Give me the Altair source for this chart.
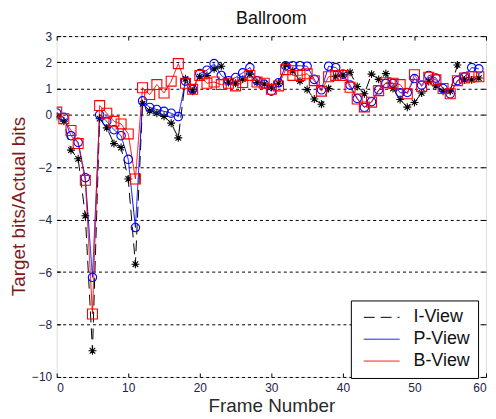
import altair as alt
import pandas as pd

frames = list(range(60))
series_names = ["I-View", "P-View", "B-View"]
i_view = [-0.07, -0.25, -1.35, -1.68, -3.85, -9.0, -0.15, -0.5, -1.1, -1.25,
          -2.45, -5.7, 0.42, 0.15, 0.06, -0.06, -0.32, -0.88, 1.37, 0.9,
          1.45, 1.5, 1.75, 1.85, 1.23, 1.2, 1.36, 1.55, 1.23, 1.17,
          1.05, 1.2, 1.9, 1.68, 1.28, 0.96, 0.6, 0.4, 1.0, 1.46,
          1.52, 1.62, 1.08, 0.8, 1.55, 1.35, 1.57, 1.0, 0.58, 0.29,
          0.47, 0.83, 1.27, 1.1, 0.9, 0.9, 1.9, 1.33, 1.33, 1.4]
p_view = [0.07, -0.1, -0.8, -1.05, -2.4, -6.2, 0.0, -0.25, -0.57, -0.8,
          -1.7, -4.3, 0.53, 0.28, 0.2, 0.13, 0.06, -0.07, 1.28, 0.97,
          1.57, 1.7, 1.95, 1.5, 1.3, 1.42, 1.6, 1.8, 1.3, 1.17,
          0.9, 1.22, 1.87, 1.87, 1.87, 1.85, 1.35, 0.95, 1.85, 1.8,
          1.55, 1.13, 0.62, 0.28, 0.5, 0.95, 1.2, 1.2, 0.84, 0.85,
          1.38, 1.13, 1.5, 1.4, 1.0, 0.8, 1.3, 1.45, 1.8, 1.75]
b_view = [0.1, -0.15, -0.6, -1.1, -2.5, -7.6, 0.35, 0.06, -0.25, -0.35,
          -0.73, -2.45, 1.03, 0.77, 1.15, 0.83, 1.28, 1.95, 1.2, 0.97,
          1.5, 1.2, 1.25, 1.15, 1.2, 1.1, 1.23, 1.5, 1.25, 1.2,
          0.97, 1.1, 1.72, 1.5, 1.5, 1.56, 1.3, 0.9, 1.45, 1.5,
          1.5, 1.05, 0.6, 0.3, 0.48, 0.92, 1.22, 1.2, 1.15, 0.8,
          1.53, 1.08, 1.43, 1.33, 1.0, 0.8, 1.3, 1.4, 1.45, 1.45]
x_ticks = [0, 10, 20, 30, 40, 50, 60]
y_ticks = [-10, -8, -6, -4, -2, 0, 1, 2, 3]

rows = []
for name, vals in zip(series_names, [i_view, p_view, b_view]):
    for f, v in zip(frames, vals):
        rows.append({"frame": f, "value": v, "series": name})
df = pd.DataFrame(rows)

W, H = 432, 343
FONT = "Liberation Sans"
xscale = alt.Scale(domain=[0, 60], nice=False, zero=False)
yscale = alt.Scale(domain=[-10, 3], nice=False, zero=False)
colors = ["#000000", "#0000ff", "#ff0000"]

legend = alt.Legend(title=None, orient="none", legendX=296, legendY=266,
                    symbolType="M-3,0L3,0", symbolSize=144, symbolStrokeWidth=1,
                    symbolOffset=14,
                    labelFontSize=18, labelFont=FONT, labelColor="#111111",
                    fillColor="white", strokeColor="black", padding=8,
                    labelOffset=23, rowPadding=4)
color_enc = alt.Color("series:N", scale=alt.Scale(domain=series_names, range=colors), legend=legend)
dash_enc = alt.StrokeDash("series:N", scale=alt.Scale(domain=series_names, range=[[11, 6], [1, 0], [1, 0]]), legend=legend)

main_x_axis = alt.Axis(values=x_ticks, title="Frame Number", ticks=False, domain=False, grid=False,
                       labelFontSize=12, labelFont=FONT, labelColor="#22224a", labelPadding=6,
                       titleFontSize=19, titleFont=FONT, titleFontWeight="normal", titleColor="#2a2a2a",
                       titleX=216, titleY=29, titleBaseline="middle", format="d")
main_y_axis = alt.Axis(values=y_ticks, title="Target bits/Actual bits", ticks=False, domain=False,
                       grid=True, gridDash=[3, 3], gridColor="black", gridWidth=1, gridOpacity=1,
                       labelFontSize=12, labelFont=FONT, labelColor="#22224a", labelPadding=5,
                       titleFontSize=19, titleFont=FONT, titleFontWeight="normal", titleColor="#801818",
                       titleX=-38, titleY=171, titleBaseline="middle", titleAngle=-90, format="d")


def tick_axis(values, orient, offset):
    return alt.Axis(values=values, orient=orient, offset=offset, labels=False, domain=False, grid=False,
                    ticks=True, tickSize=4, tickColor="black", tickWidth=1, title=None)


def line_layer(name, xaxis, yaxis):
    return alt.Chart(df).transform_filter(alt.datum.series == name).mark_line(strokeWidth=1, clip=True).encode(
        x=alt.X("frame:Q", scale=xscale, axis=xaxis),
        y=alt.Y("value:Q", scale=yscale, axis=yaxis),
        color=color_enc,
        strokeDash=dash_enc,
    )


star = "M-1,0L1,0M0,-1L0,1M-0.7,-0.7L0.7,0.7M-0.7,0.7L0.7,-0.7"


def point_layer(name, shape, size, col, xaxis=None, yaxis=None):
    return alt.Chart(df).transform_filter(alt.datum.series == name).mark_point(
        shape=shape, size=size, filled=False, stroke=col, strokeWidth=1.1, opacity=1, clip=True
    ).encode(
        x=alt.X("frame:Q", scale=xscale, axis=xaxis),
        y=alt.Y("value:Q", scale=yscale, axis=yaxis),
    )


l1 = line_layer("I-View", main_x_axis, main_y_axis)
l2 = line_layer("P-View", tick_axis(x_ticks, "top", -H), None)
l3 = line_layer("B-View", tick_axis(x_ticks, "bottom", -H), tick_axis(y_ticks, "right", -W))
p1 = point_layer("I-View", star, 64, "#000000", None, tick_axis(y_ticks, "left", -W))
p2 = point_layer("P-View", "circle", 72, "#0000ff")
p3 = point_layer("B-View", "square", 100, "#ff0000")

chart = alt.layer(l1, l2, l3, p1, p2, p3).resolve_axis(x="independent", y="independent").properties(
    width=W, height=H,
    title=alt.TitleParams("Ballroom", fontSize=18, font=FONT, fontWeight="normal", color="#111111",
                          anchor="middle", offset=2),
    autosize=alt.AutoSizeParams(type="none"),
    padding={"left": 49, "top": 27, "right": 2, "bottom": 38},
).configure_view(stroke="black", strokeWidth=1).configure(background="white")

chart.save("out.html", embed_options={"renderer": "svg", "actions": False})
